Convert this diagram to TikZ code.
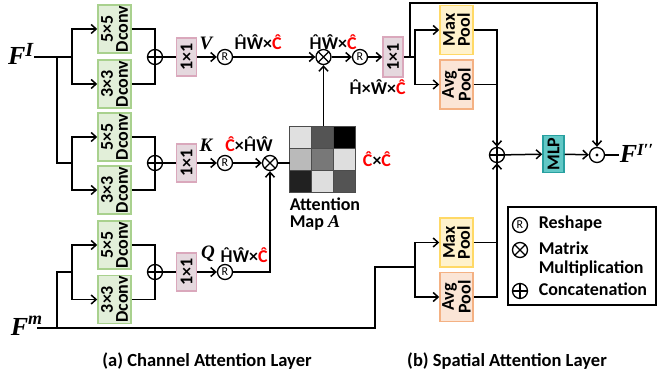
\documentclass[tikz,border=0pt]{standalone}
\usepackage{fontspec}
\setmainfont{Carlito}
\newfontfamily\vfam{Liberation Serif}
\newfontfamily\hfam{Lato}[Scale=0.9]
\usetikzlibrary{arrows.meta,positioning,calc}
\definecolor{DconvFill}{RGB}{226,239,217}
\definecolor{DconvDraw}{RGB}{169,209,142}
\definecolor{ConvFill}{RGB}{229,216,222}
\definecolor{ConvDraw}{RGB}{218,168,188}
\definecolor{MaxFill}{RGB}{255,242,204}
\definecolor{MaxDraw}{RGB}{255,217,102}
\definecolor{AvgFill}{RGB}{251,229,214}
\definecolor{AvgDraw}{RGB}{244,177,131}
\definecolor{MlpFill}{RGB}{98,200,198}
\definecolor{MlpDraw}{RGB}{40,160,160}
\newcommand{\figfont}{\fontsize{18}{15}\selectfont\bfseries}
\newcommand{\varfont}{\fontsize{19}{19}\selectfont\vfam\bfseries\itshape}
\newcommand{\bigvar}{\fontsize{26}{26}\selectfont\vfam\bfseries\itshape}
\newcommand{\Cred}{\textcolor{red}{Ĉ}}
\newcommand{\Hhat}{{\hfam Ĥ}}
\tikzset{
  dconv/.style={draw=DconvDraw, fill=DconvFill, line width=1.5pt, rotate=90,
    minimum width=48pt, minimum height=33pt, inner sep=0pt, align=center,
    font=\figfont},
  conv/.style={draw=ConvDraw, fill=ConvFill, line width=1.5pt, rotate=90,
    minimum width=38pt, minimum height=20pt, inner sep=0pt, font=\figfont},
  maxpool/.style={draw=MaxDraw, fill=MaxFill, line width=1.5pt, rotate=90,
    minimum width=49pt, minimum height=33pt, inner sep=0pt, align=center,
    font=\figfont},
  avgpool/.style={maxpool, draw=AvgDraw, fill=AvgFill},
  mlpbox/.style={draw=MlpDraw, fill=MlpFill, line width=1.5pt, rotate=90,
    minimum width=37pt, minimum height=21pt, inner sep=0pt, font=\figfont},
  op/.style={circle, draw, line width=1.3pt, minimum size=15pt, inner sep=0pt},
  concat/.style={op, path picture={
    \draw[line width=1.3pt] (path picture bounding box.north) -- (path picture bounding box.south)
      (path picture bounding box.west) -- (path picture bounding box.east);}},
  matmul/.style={op, path picture={
    \draw[line width=1.3pt] ([shift={(45:8pt)}]path picture bounding box.center) -- ([shift={(225:8pt)}]path picture bounding box.center)
      ([shift={(135:8pt)}]path picture bounding box.center) -- ([shift={(-45:8pt)}]path picture bounding box.center);}},
  reshape/.style={op, font=\fontsize{12}{12}\selectfont},
  hadamard/.style={op, path picture={
    \fill (path picture bounding box.center) circle (1.7pt);}},
  dimlabel/.style={font=\figfont, inner sep=0pt, anchor=base},
  legtext/.style={font=\figfont, inner sep=0pt, anchor=base west},
  varlabel/.style={font=\varfont, inner sep=0pt, anchor=base},
  cell/.style={draw=black!70, line width=0.8pt},
  arrow/.style={-{Straight Barb[length=5pt,width=9pt]}}
}

\begin{document}
\begin{tikzpicture}[x=1pt, y=-1pt, line width=1.5pt]
  \useasboundingbox (0,0) rectangle (657,377);

  \node[font=\bigvar, inner sep=0pt, anchor=base east] (fi) at (34,65)
    {F\raisebox{8pt}{\fontsize{20}{20}\selectfont I}};
  \node[font=\bigvar, inner sep=0pt, anchor=base east] (fm) at (43,335)
    {F\raisebox{10pt}{\fontsize{18}{18}\selectfont m}};

  \node[dconv] (d5v) at (114.5,29) {5×5\\Dconv};
  \node[dconv] (d3v) at (114.5,84) {3×3\\Dconv};
  \node[dconv] (d5k) at (114.5,137) {5×5\\Dconv};
  \node[dconv] (d3k) at (114.5,190) {3×3\\Dconv};
  \node[dconv] (d5q) at (114.5,245) {5×5\\Dconv};
  \node[dconv] (d3q) at (114.5,299.5) {3×3\\Dconv};

  \node[concat] (cv) at (155,57) {};
  \node[concat] (ck) at (155,163) {};
  \node[concat] (cq) at (155,272) {};

  \node[conv] (c1v) at (186.5,57) {1×1};
  \node[conv] (c1k) at (186.5,163) {1×1};
  \node[conv] (c1q) at (186.5,272) {1×1};

  \node[varlabel] (lv) at (206,50) {V};
  \node[varlabel] (lk) at (206,152) {K};
  \node[varlabel] (lq) at (208,259) {Q};

  \node[reshape] (rv) at (225,57) {R};
  \node[reshape] (rk) at (225,163) {R};
  \node[reshape] (rq) at (225,272) {R};

  \node[matmul] (mv) at (323.5,57) {};
  \node[matmul] (mk) at (270,163) {};
  \node[reshape] (ro) at (360,57) {R};
  \node[conv, minimum width=40pt] (c1o) at (393,57) {1×1};

  \node[minimum size=66pt, inner sep=0pt] (amap) at (323.5,160) {};
  \filldraw[cell, fill=black!12] ([shift={(0,0)}]amap.north west) rectangle ++(22,22);
  \filldraw[cell, fill=black!67] ([shift={(22,0)}]amap.north west) rectangle ++(22,22);
  \filldraw[cell, fill=black] ([shift={(44,0)}]amap.north west) rectangle ++(22,22);
  \filldraw[cell, fill=black!27] ([shift={(0,22)}]amap.north west) rectangle ++(22,22);
  \filldraw[cell, fill=black!53] ([shift={(22,22)}]amap.north west) rectangle ++(22,22);
  \filldraw[cell, fill=black!13] ([shift={(44,22)}]amap.north west) rectangle ++(22,22);
  \filldraw[cell, fill=black!87] ([shift={(0,44)}]amap.north west) rectangle ++(22,22);
  \filldraw[cell, fill=black!13] ([shift={(22,44)}]amap.north west) rectangle ++(22,22);
  \filldraw[cell, fill=black!67] ([shift={(44,44)}]amap.north west) rectangle ++(22,22);

  \node[dimlabel] (dv) at (258,50) {\Hhat Ŵ×\Cred};
  \node[dimlabel] (dm) at (333,50) {\Hhat Ŵ×\Cred};
  \node[dimlabel] (dk) at (249,152) {\Cred{}×\Hhat Ŵ};
  \node[dimlabel] (dq) at (244,262) {\Hhat Ŵ×\Cred};
  \node[dimlabel] (do) at (377.5,95) {\Hhat{}×Ŵ×\Cred};
  \node[dimlabel] (da) at (377,167) {\Cred{}×\Cred};
  \node[font=\fontsize{18}{17}\selectfont\bfseries, inner sep=0pt, align=left, anchor=north west] (alabel) at (289,197)
    {Attention\\Map {\vfam\itshape A}};

  \node[maxpool] (mp1) at (456.5,30) {Max\\Pool};
  \node[avgpool] (ap1) at (456.5,84.5) {Avg\\Pool};
  \node[maxpool] (mp2) at (456.5,242.5) {Max\\Pool};
  \node[avgpool] (ap2) at (456.5,297) {Avg\\Pool};
  \node[concat] (cs) at (497,155) {};
  \node[mlpbox] (mlp) at (553.5,154) {MLP};
  \node[hadamard] (had) at (597,155) {};
  \node[font=\bigvar, inner sep=0pt, anchor=base west] (fo) at (619,163)
    {F\raisebox{7pt}{\fontsize{17}{17}\selectfont I′′}};

  \node[draw, line width=1.2pt, minimum width=148pt, minimum height=98pt, inner sep=0pt] (legend) at (582,256) {};
  \node[reshape] (lr) at (520,225) {R};
  \node[matmul] (lm) at (520,250) {};
  \node[concat] (lc) at (520,291) {};
  \node[legtext] (tr) at (538,229) {Reshape};
  \node[legtext] (tm) at (538,255) {Matrix};
  \node[legtext] (tm2) at (538,274) {Multiplication};
  \node[legtext] (tc) at (538,295) {Concatenation};

  \node[font=\fontsize{18.5}{18.5}\selectfont\bfseries, inner sep=0pt, anchor=base] (capa) at (207,366.5) {(a) Channel Attention Layer};
  \node[font=\fontsize{18.5}{18.5}\selectfont\bfseries, inner sep=0pt, anchor=base] (capb) at (507,366.5) {(b) Spatial Attention Layer};

  \coordinate (fib) at (57,57);
  \coordinate (bv) at (72,57);
  \coordinate (bk) at (72,163);
  \coordinate (fmb) at (57,328);
  \coordinate (bq) at (72,272);
  \coordinate (fmc) at (375,328);
  \coordinate (bp2) at (415,267);
  \coordinate (bo) at (415,57);
  \coordinate (sk) at (410,57);

  \draw (fi.east |- bv) -- (bv);
  \draw (fib) |- (bk);
  \draw ([xshift=-6pt]fm.east |- fmb) -- (fmc) |- (bp2);
  \draw (fmb) |- (bq);

  \draw[arrow] (bv) |- (d5v);
  \draw[arrow] (bv) |- (d3v);
  \draw[arrow] (bk) |- (d5k);
  \draw[arrow] (bk) |- (d3k);
  \draw[arrow] (bq) |- (d5q);
  \draw[arrow] (bq) |- (d3q);

  \draw (d5v) -| (cv);
  \draw (d3v) -| (cv);
  \draw (d5k) -| (ck);
  \draw (d3k) -| (ck);
  \draw (d5q) -| (cq);
  \draw (d3q) -| (cq);

  \draw (cv) -- (c1v);
  \draw (ck) -- (c1k);
  \draw (cq) -- (c1q);
  \draw[arrow] (c1v) -- (rv);
  \draw[arrow] (c1k) -- (rk);
  \draw[arrow] (c1q) -- (rq);

  \draw[arrow] (rv) -- (mv);
  \draw[arrow] (rk) -- (mk);
  \draw[arrow] (rq) -| (mk);
  \draw (mk) -- (mk -| amap.west);
  \draw[arrow] (amap.north) -- (mv);
  \draw[arrow] (mv) -- (ro);
  \draw[arrow] (ro) -- (c1o);

  \draw (c1o) -- (bo);
  \draw[arrow] (sk) -- ++(0,-54) -| (had);
  \draw[arrow] (bo) |- (mp1);
  \draw[arrow] (bo) |- (ap1);
  \draw[arrow] (bp2) |- (mp2);
  \draw[arrow] (bp2) |- (ap2);
  \draw[arrow] (mp1) -| (cs);
  \draw (ap1) -| (cs);
  \draw[arrow] (ap2) -| (cs);
  \draw (mp2) -| (cs);
  \draw[arrow] (cs) -- (mlp);
  \draw[arrow] (mlp) -- (had);
  \draw (had) -- (had -| fo.west);
\end{tikzpicture}
\end{document}
